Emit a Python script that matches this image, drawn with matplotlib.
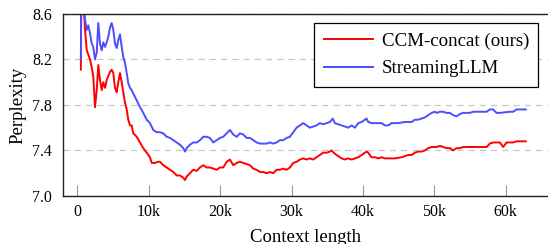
import numpy as np
import matplotlib.pyplot as plt
from matplotlib.ticker import FuncFormatter

plt.rcParams['font.family'] = ['Liberation Serif', 'DejaVu Serif']

# Perplexity vs context length (x in thousands of tokens)

ccm_x = [0.5, 0.55, 0.84, 1.08, 1.32, 1.78, 2.02, 2.24, 2.48, 2.72, 2.94, 3.18,
         3.42, 3.64, 3.88, 4.12, 4.58, 4.82, 5.04, 5.28, 5.52, 5.74, 5.98, 6.22,
         6.44, 6.68, 6.92, 7.14, 7.38, 7.62, 7.84, 8.32, 8.78, 9.24, 9.72, 10.18,
         10.42, 10.88, 11.34, 11.58, 12.04, 12.52, 12.98, 13.44, 13.92, 14.38,
         14.84, 15.08, 15.32, 15.78, 16.24, 16.72, 17.18, 17.64, 18.12, 18.58,
         19.04, 19.52, 19.98, 20.44, 20.92, 21.38, 21.84, 22.32, 22.78, 23.24,
         23.72, 24.18, 24.64, 25.12, 25.58, 26.04, 26.52, 26.98, 27.44, 27.92,
         28.38, 28.84, 29.32, 29.78, 30.24, 30.72, 31.18, 31.64, 32.12, 32.58,
         33.04, 33.52, 33.98, 34.44, 34.92, 35.38, 35.6, 36.08, 36.54, 37.02,
         37.48, 37.94, 38.42, 38.88, 39.34, 39.82, 40.28, 40.52, 40.74, 41.22,
         41.68, 42.14, 42.62, 43.08, 43.54, 44.48, 45.42, 46.34, 46.82, 47.28,
         47.74, 48.22, 48.68, 49.14, 49.62, 50.08, 50.32, 50.78, 51.24, 51.72,
         52.18, 52.64, 53.12, 53.58, 54.04, 55.44, 56.84, 57.32, 57.78, 58.24,
         59.18, 59.64, 60.12, 61.04, 61.52, 62.82]
ccm_y = [8.11, 8.75, 8.75, 8.46, 8.28, 8.20, 8.13, 8.05, 7.78, 7.93, 8.15, 8.02,
         7.93, 8.00, 7.95, 8.02, 8.09, 8.11, 8.08, 7.95, 7.91, 8.00, 8.08, 8.00,
         7.91, 7.82, 7.76, 7.67, 7.62, 7.62, 7.55, 7.52, 7.47, 7.42, 7.38, 7.34,
         7.29, 7.29, 7.30, 7.30, 7.27, 7.25, 7.23, 7.21, 7.18, 7.18,
         7.16, 7.14, 7.17, 7.20, 7.23, 7.22, 7.25, 7.27, 7.25, 7.25,
         7.24, 7.23, 7.25, 7.25, 7.30, 7.32, 7.27, 7.29, 7.30, 7.29,
         7.28, 7.27, 7.24, 7.23, 7.21, 7.21, 7.20, 7.21, 7.20, 7.23,
         7.23, 7.24, 7.23, 7.25, 7.29, 7.30, 7.32, 7.33, 7.32, 7.33,
         7.32, 7.34, 7.36, 7.38, 7.38, 7.39, 7.40, 7.37, 7.35, 7.33,
         7.32, 7.33, 7.32, 7.33, 7.34, 7.36, 7.38, 7.39, 7.38, 7.34,
         7.34, 7.33, 7.34, 7.33, 7.33, 7.33, 7.34, 7.36, 7.36, 7.38,
         7.39, 7.39, 7.40, 7.42, 7.43, 7.43, 7.43, 7.44, 7.43, 7.42,
         7.42, 7.40, 7.42, 7.42, 7.43, 7.43, 7.43, 7.43, 7.46, 7.47,
         7.47, 7.43, 7.47, 7.47, 7.48, 7.48]

stream_x = [0.5, 0.55, 0.84, 1.08, 1.32, 1.54, 1.78, 2.02, 2.24, 2.48, 2.72, 2.94,
            3.18, 3.42, 3.64, 3.88, 4.12, 4.34, 4.58, 4.82, 5.04, 5.28, 5.52, 5.74,
            5.98, 6.22, 6.44, 6.68, 6.92, 7.14, 7.38, 7.62, 7.84, 8.32, 8.78, 9.24,
            9.72, 10.18, 10.64, 11.12, 11.58, 12.04, 12.52, 12.98, 13.44, 13.92,
            14.38, 14.84, 15.08, 15.32, 15.78, 16.24, 16.72, 17.18, 17.64, 18.12,
            18.58, 19.04, 19.52, 19.98, 20.44, 20.92, 21.38, 21.84, 22.32, 22.78,
            23.24, 23.72, 24.18, 24.64, 25.12, 25.58, 26.04, 26.52, 26.98, 27.44,
            27.92, 28.38, 28.84, 29.32, 29.78, 30.24, 30.72, 31.18, 31.64, 32.12,
            32.58, 33.04, 33.52, 33.98, 34.44, 34.92, 35.38, 35.76, 36.08, 36.54,
            37.02, 37.48, 37.94, 38.42, 38.88, 39.12, 39.34, 39.82, 40.28, 40.52,
            40.74, 41.22, 41.68, 42.62, 43.08, 43.54, 44.02, 44.94, 45.88, 46.82,
            47.28, 47.74, 48.22, 48.68, 49.14, 49.62, 50.08, 50.32, 50.78, 51.24,
            51.72, 52.18, 52.64, 53.12, 53.58, 54.04, 54.98, 55.44, 56.38, 57.32,
            57.78, 58.24, 58.72, 59.18, 60.58, 61.04, 61.52, 62.82]
stream_y = [8.20, 8.75, 8.70, 8.55, 8.46, 8.50, 8.43, 8.34, 8.31, 8.20, 8.26, 8.52,
            8.34, 8.28, 8.35, 8.31, 8.35, 8.40, 8.48, 8.52, 8.46, 8.34, 8.30, 8.37,
            8.42, 8.31, 8.22, 8.17, 8.08, 7.99, 7.95, 7.93, 7.90, 7.84, 7.78, 7.73,
            7.67, 7.64, 7.58, 7.56, 7.56, 7.55, 7.52, 7.51, 7.49, 7.47,
            7.45, 7.42, 7.39, 7.42, 7.45, 7.47, 7.47, 7.49, 7.52, 7.52,
            7.51, 7.47, 7.49, 7.51, 7.52, 7.55, 7.58, 7.54, 7.52, 7.55,
            7.54, 7.51, 7.51, 7.49, 7.47, 7.46, 7.46, 7.46, 7.47, 7.46,
            7.47, 7.49, 7.49, 7.51, 7.52, 7.56, 7.60, 7.62, 7.64, 7.62,
            7.60, 7.61, 7.62, 7.64, 7.63, 7.64, 7.65, 7.68, 7.64, 7.63,
            7.62, 7.61, 7.60, 7.62, 7.60, 7.62, 7.64, 7.65, 7.67, 7.68,
            7.65, 7.64, 7.64, 7.64, 7.62, 7.62, 7.64, 7.64, 7.65, 7.65,
            7.67, 7.67, 7.68, 7.69, 7.71, 7.73, 7.74, 7.73, 7.74, 7.74,
            7.73, 7.73, 7.71, 7.70, 7.72, 7.73, 7.73, 7.74, 7.74, 7.74,
            7.76, 7.76, 7.73, 7.73, 7.74, 7.74, 7.76, 7.76]

y_ticks = [7.0, 7.4, 7.8, 8.2, 8.6]
x_ticks = [0, 10000, 20000, 30000, 40000, 50000, 60000]

fig = plt.figure(figsize=(5.48, 2.44), dpi=100)
ax = fig.add_axes([0.115, 0.197, 0.886, 0.746])

ax.plot(np.array(ccm_x) * 1000, ccm_y, color='#ff0000', lw=1.4,
        label='CCM-concat (ours)')
ax.plot(np.array(stream_x) * 1000, stream_y, color='#4d4dff', lw=1.4,
        label='StreamingLLM')

ax.set_xlim(-2000, 66000)
ax.set_ylim(7.0, 8.6)
ax.set_xticks(x_ticks)
ax.set_yticks(y_ticks)
ax.xaxis.set_major_formatter(FuncFormatter(lambda v, p: '0' if v == 0 else f'{int(v / 1000)}k'))
ax.yaxis.set_major_formatter(FuncFormatter(lambda v, p: f'{v:.1f}'))

ax.grid(axis='y', color='#c8c8c8', linestyle=(0, (5, 4)), lw=0.9)
ax.tick_params(axis='x', direction='in', length=8, width=0.8, color='#999999',
               labelsize=11.5, pad=6)
ax.tick_params(axis='y', length=0, labelsize=11.5, pad=8)
for s in ax.spines.values():
    s.set_linewidth(1.0)
    s.set_color('#222222')

ax.set_xlabel('Context length', fontsize=13.5, labelpad=6.5)
ax.set_ylabel('Perplexity', fontsize=13.5, labelpad=4)

leg = ax.legend(loc='upper right', bbox_to_anchor=(0.979, 0.951), fontsize=13.6,
                frameon=True, fancybox=False, framealpha=1, edgecolor='black',
                handlelength=2.6, handletextpad=0.45, labelspacing=0.55,
                borderpad=0.5, borderaxespad=0)
leg.get_frame().set_linewidth(0.9)

fig.savefig('out.png', dpi=100)
